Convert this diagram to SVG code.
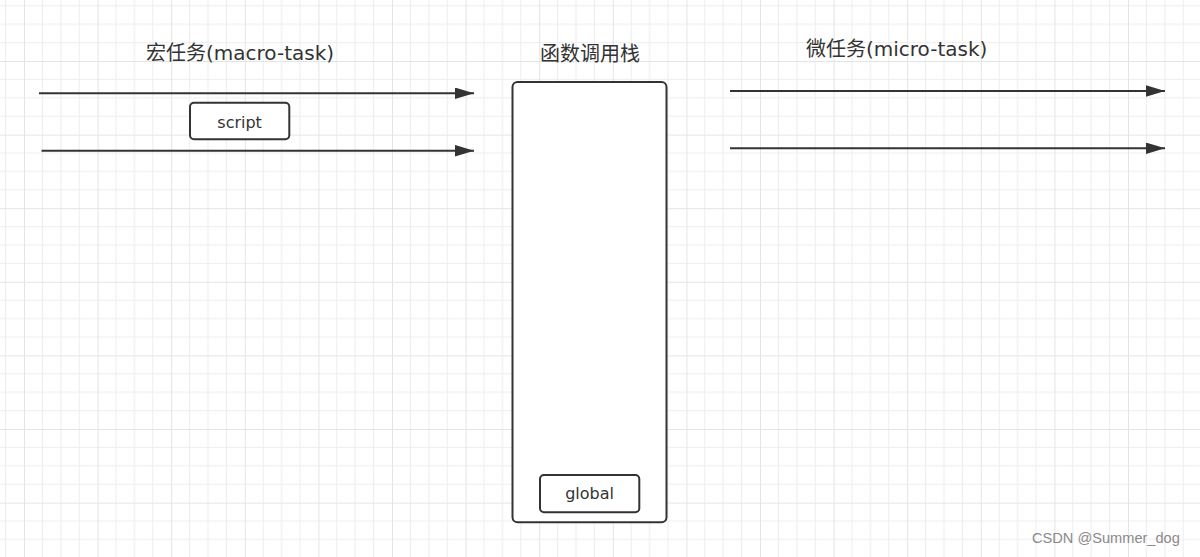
<svg xmlns="http://www.w3.org/2000/svg" width="1200" height="557" viewBox="0 0 1200 557">
<style>
.t{font-family:"DejaVu Sans","Noto Sans CJK SC",sans-serif;fill:#333;}
.title{font-size:20px;}
.lbl{font-size:16px;text-anchor:middle;}
.box{fill:#fff;stroke:#333;stroke-width:2;}
.conn{stroke:#333;stroke-width:2;fill:none;marker-end:url(#arrow);}
.wm{font-family:"Liberation Sans",Arial,sans-serif;font-size:14.6px;fill:#8a8a8a;}
</style>
<defs>
<marker id="arrow" markerUnits="userSpaceOnUse" markerWidth="20" markerHeight="12" refX="19" refY="5.75" orient="auto">
<path d="M0,0 L19,5.75 L0,11.5 Z" fill="#333"/>
</marker>
<pattern id="grid" patternUnits="userSpaceOnUse" x="24" y="61" width="73.6" height="73.6">
<path d="M18.4,0 V73.6 M36.8,0 V73.6 M55.2,0 V73.6 M0,18.4 H73.6 M0,36.8 H73.6 M0,55.2 H73.6" stroke="#eeeeee" stroke-width="1.2" fill="none"/>
<path d="M0,0 V73.6 M0,0 H73.6" stroke="#e4e4e4" stroke-width="2" fill="none"/>
</pattern>
</defs>
<rect width="1200" height="557" fill="#fff"/>
<rect width="1200" height="557" fill="url(#grid)"/>

<g id="macro-title"><text class="t title" x="146" y="60">宏任务(macro-task)</text></g>
<g id="stack-title"><text class="t title" x="590" y="61" text-anchor="middle">函数调用栈</text></g>
<g id="micro-title"><text class="t title" x="806" y="56">微任务(micro-task)</text></g>

<g id="connectors">
<line class="conn" x1="39" y1="93.3" x2="474" y2="93.3"/>
<line class="conn" x1="41.5" y1="150.7" x2="474" y2="150.7"/>
<line class="conn" x1="730" y1="91" x2="1165" y2="91"/>
<line class="conn" x1="730" y1="148.3" x2="1165" y2="148.3"/>
</g>

<g id="script">
<rect class="box" x="190" y="102.7" width="99.3" height="36.6" rx="4"/>
<text class="t lbl" x="239.6" y="127.8">script</text>
</g>

<g id="call-stack">
<rect class="box" x="512.5" y="82" width="154" height="440.3" rx="5"/>
</g>

<g id="global">
<rect class="box" x="540" y="475" width="99.3" height="37.3" rx="4"/>
<text class="t lbl" x="589.6" y="499.3">global</text>
</g>

<text class="wm" x="1032" y="543">CSDN @Summer_dog</text>
</svg>
